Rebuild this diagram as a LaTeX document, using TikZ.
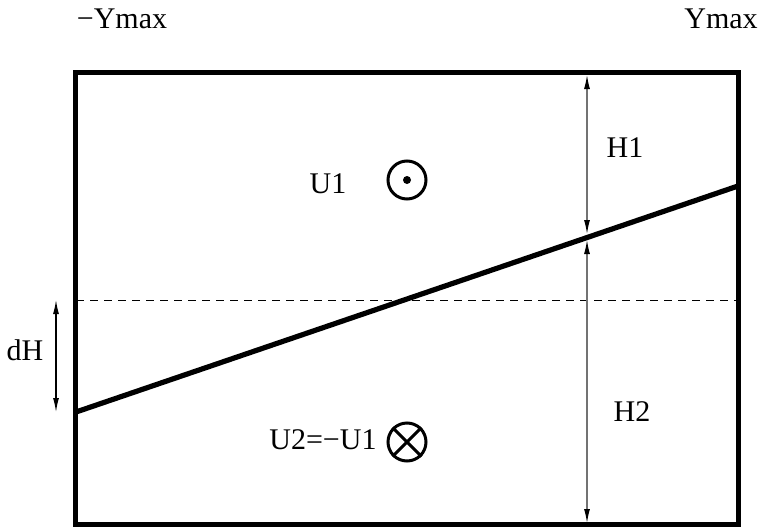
\documentclass[tikz,border=0pt]{standalone}
\usepackage{fontspec}
\setmainfont{Liberation Serif}
\usetikzlibrary{arrows.meta}
\begin{document}
\begin{tikzpicture}[x=0.5pt,y=-0.5pt,
  lbl/.style={inner sep=0pt,font=\fontsize{15}{17}\selectfont},
  frame/.style={line width=2.5pt},
  dim/.style={line width=0.6pt,draw=black!55,{Latex[length=7pt,width=3pt,color=black]}-{Latex[length=7pt,width=3pt,color=black]}},
  dimk/.style={line width=0.6pt,draw=black,{Latex[length=7pt,width=3pt]}-{Latex[length=7pt,width=3pt]}},
  sym/.style={circle,draw,line width=1.5pt,minimum size=19pt,inner sep=0pt}]
\useasboundingbox (0,0) rectangle (760,530);
% frame
\draw[frame] (75.5,72.5) rectangle (738,524);
% dashed reference line
\coordinate (dl) at (76,300);
\coordinate (dr) at (738,300);
\draw[dashed,line width=0.5pt,dash pattern=on 4pt off 3pt] (dl) -- (dr);
% interface
\coordinate (il) at (76,412);
\coordinate (ir) at (738,186);
\draw[line width=2.6pt] (il) -- (ir);
% H1 / H2 dimension
\coordinate (ht) at (587,75);
\coordinate (hma) at (587,234);
\coordinate (hmb) at (587,240);
\coordinate (hb) at (587,523);
\draw[dim] (ht) -- (hma);
\draw[dim] (hmb) -- (hb);
% dH
\coordinate (dt) at (56,300);
\coordinate (db) at (56,412);
\draw[dimk] (dt) -- (db);
% labels
\node[lbl] (ymin) at (122,19) {−Ymax};
\node[lbl] (ymax) at (721,19) {Ymax};
\node[lbl] (h1) at (625,148) {H1};
\node[lbl] (h2) at (632,412) {H2};
\node[lbl] (dh) at (25,350) {dH};
\node[lbl] (u1) at (328,184) {U1};
\node[lbl] (u2) at (323,440) {U2=−U1};
% symbols
\node[sym] (dot) at (407,180) {};
\fill (dot.center) circle (2pt);
\node[sym] (cross) at (407,442) {};
\draw[line width=1.5pt] (cross.north west) -- (cross.south east);
\draw[line width=1.5pt] (cross.north east) -- (cross.south west);
\end{tikzpicture}
\end{document}
